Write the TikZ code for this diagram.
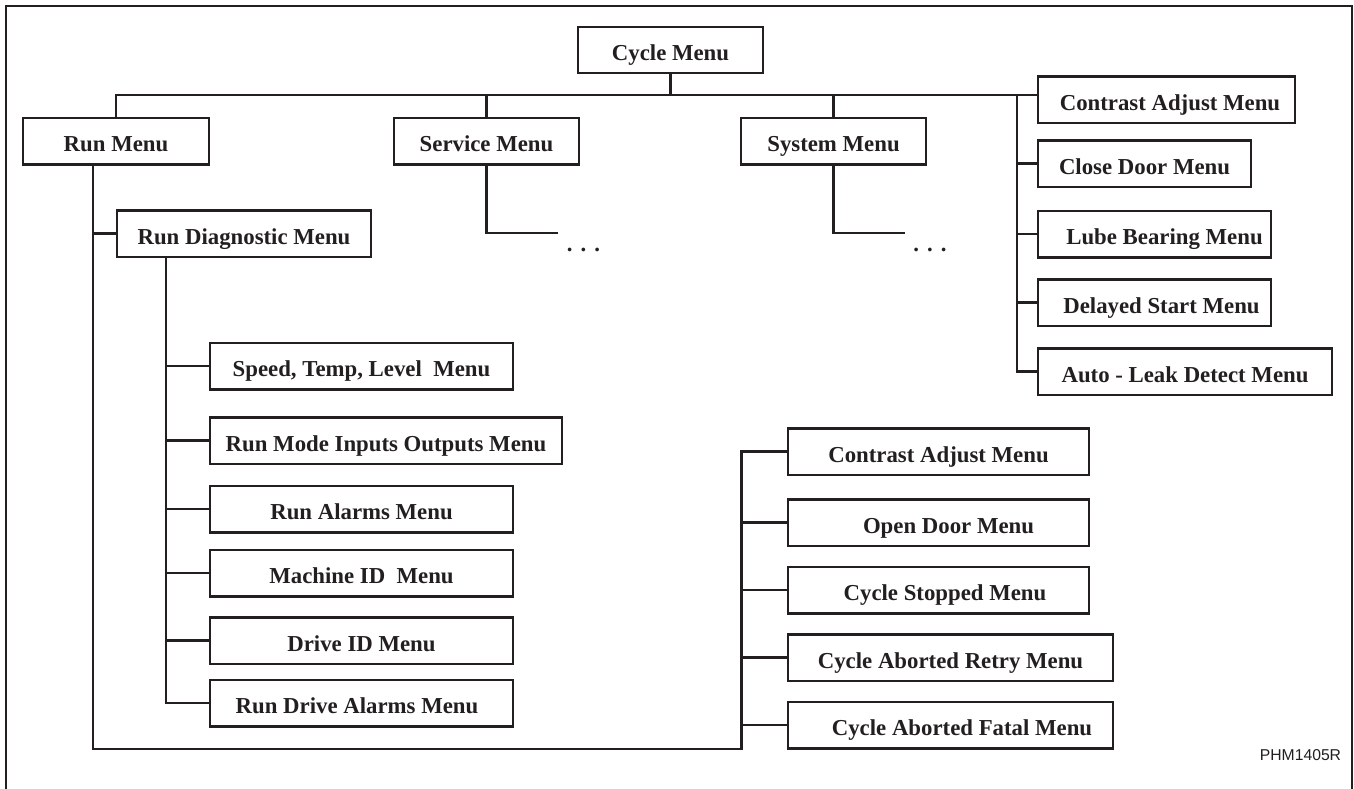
\documentclass[tikz,border=0pt]{standalone}
\usepackage{fontspec}
\setmainfont{Liberation Serif}
\newfontfamily\labelsans{Liberation Sans}
\definecolor{ink}{RGB}{35,31,32}
\begin{document}
\begin{tikzpicture}[x=1pt,y=-1pt,
  mbox/.style={draw=ink, line width=2.5pt, rectangle, inner sep=0pt,
    minimum height=46.5pt, text=ink, text height=22pt, text depth=1pt,
    font=\fontsize{22.8}{27}\selectfont\bfseries},
  conn/.style={draw=ink, line width=2.4pt},
  dots/.style={inner sep=0pt, text=ink, font=\fontsize{22.8}{27}\selectfont\bfseries},
  tag/.style={inner sep=0pt, text=ink, font=\fontsize{15.7}{18}\selectfont\labelsans}]
\useasboundingbox (0,0) rectangle (1354,788);
% frame (open at the bottom)
\draw[ink, line width=2pt] (6,790) -- (6,6) -- (1352,6) -- (1352,790);

% top level
\node[mbox, minimum width=185pt, minimum height=46pt] (cyc) at (670.5,50) {Cycle Menu};
\node[mbox, minimum width=186pt] (run) at (116,141) {Run Menu};
\node[mbox, minimum width=185pt] (serv) at (486.5,141) {Service Menu};
\node[mbox, minimum width=185pt] (sys) at (833.5,141) {System Menu};

% right column
\node[mbox, minimum width=257pt] (caA) at (1166.5,99.5) {\kern7pt Contrast Adjust Menu};
\node[mbox, minimum width=213pt] (close) at (1144.5,163.5) {Close Door Menu};
\node[mbox, minimum width=233pt] (lube) at (1154.5,234) {\kern20pt Lube Bearing Menu};
\node[mbox, minimum width=233pt] (delay) at (1154.5,302.5) {\kern14pt Delayed Start Menu};
\node[mbox, minimum width=294pt] (leak) at (1185,371.5) {Auto - Leak Detect Menu};

% run branch
\node[mbox, minimum width=254pt] (rdiag) at (244,233.5) {Run Diagnostic Menu};
\node[mbox, minimum width=303pt] (speed) at (361.5,366) {Speed, Temp, Level\ \ Menu};
\node[mbox, minimum width=352pt] (rmode) at (386,440.5) {Run Mode Inputs Outputs Menu};
\node[mbox, minimum width=303pt] (ralarm) at (361.5,509) {Run Alarms Menu};
\node[mbox, minimum width=303pt] (mach) at (361.5,573) {Machine ID\ \ Menu};
\node[mbox, minimum width=303pt] (drv) at (361.5,640.5) {Drive ID Menu};
\node[mbox, minimum width=303pt] (rdrv) at (361.5,703) {Run Drive Alarms Menu\kern9pt};

% cycle group
\node[mbox, minimum width=301pt] (caB) at (938.5,451.5) {Contrast Adjust Menu};
\node[mbox, minimum width=301pt] (open) at (938.5,522.5) {\kern20pt Open Door Menu};
\node[mbox, minimum width=301pt] (stop) at (938.5,590) {\kern13pt Cycle Stopped Menu};
\node[mbox, minimum width=325pt] (retry) at (950.5,657.5) {Cycle Aborted Retry Menu};
\node[mbox, minimum width=325pt] (fatal) at (950.5,725) {\kern23pt Cycle Aborted Fatal Menu};

% dots
\node[dots] (sdots) at (583.5,250) {.\kern8pt.\kern8pt.};
\node[dots] (ydots) at (930,250) {.\kern8pt.\kern8pt.};

% tag
\node[tag] (tagnode) at (1300.5,755) {PHM1405R};

% helper coordinates
\coordinate (bus) at (670.5,95);
\coordinate (rtop) at (1017,95);
\coordinate (rvx) at (93,0);
\coordinate (dvx) at (166,0);
\coordinate (cstem) at (741.5,749);
\coordinate (send) at (558,233);
\coordinate (yend) at (905,233);

% connectors
\draw[conn] (cyc.south) -- (bus);
\draw[conn] (run.north) |- (caA.west |- bus);
\draw[conn] (serv.north) -- (serv.north |- bus);
\draw[conn] (sys.north) -- (sys.north |- bus);
\draw[conn] (rtop) |- (leak.west);
\draw[conn] (rtop |- close.west) -- (close.west);
\draw[conn] (rtop |- lube.west) -- (lube.west);
\draw[conn] (rtop |- delay.west) -- (delay.west);

\draw[conn] (serv.south) |- (send);
\draw[conn] (sys.south) |- (yend);

\draw[conn] (run.south -| rvx) |- (cstem) |- (caB.west);
\draw[conn] (rvx |- rdiag.west) -- (rdiag.west);
\draw[conn] (cstem |- open.west) -- (open.west);
\draw[conn] (cstem |- stop.west) -- (stop.west);
\draw[conn] (cstem |- retry.west) -- (retry.west);
\draw[conn] (cstem |- fatal.west) -- (fatal.west);

\draw[conn] (rdiag.south -| dvx) |- (rdrv.west);
\draw[conn] (dvx |- speed.west) -- (speed.west);
\draw[conn] (dvx |- rmode.west) -- (rmode.west);
\draw[conn] (dvx |- ralarm.west) -- (ralarm.west);
\draw[conn] (dvx |- mach.west) -- (mach.west);
\draw[conn] (dvx |- drv.west) -- (drv.west);
\end{tikzpicture}
\end{document}
